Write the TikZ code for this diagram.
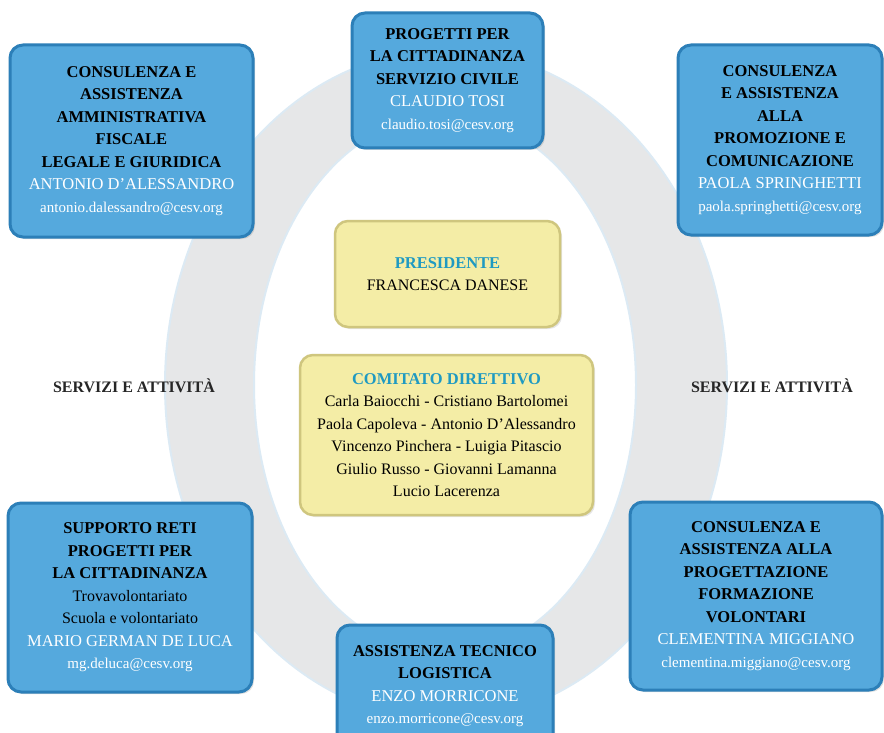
\documentclass[tikz,border=0pt]{standalone}
\usepackage{fontspec}
\setmainfont{Liberation Serif}
\usetikzlibrary{shadows}
\definecolor{boxblue}{HTML}{55A9DD}
\definecolor{boxedge}{HTML}{2C7FB8}
\definecolor{boxyellow}{HTML}{F4EDA6}
\definecolor{yedge}{HTML}{CFC67E}
\definecolor{ringgray}{HTML}{E6E7E8}
\definecolor{ringedge}{HTML}{DCEAF4}
\definecolor{tealtxt}{HTML}{1F9AC2}
\newcommand\titx[1]{{\fontsize{16.5}{22.5}\selectfont\bfseries #1}}
\newcommand\namex[1]{{\fontsize{16.5}{22.5}\selectfont\color{white}#1}}
\newcommand\mailx[1]{{\fontsize{15}{22.5}\selectfont\color{white}#1}}
\begin{document}
\begin{tikzpicture}[x=1pt,y=-1pt,
  bluebox/.style={rounded corners=13pt, fill=boxblue, draw=boxedge, line width=3pt,
    align=center, inner sep=0pt, text=black, font=\fontsize{16}{22.5}\selectfont,
    drop shadow={opacity=0.25, shadow xshift=2pt, shadow yshift=-2pt}},
  yellowbox/.style={rounded corners=13pt, fill=boxyellow, draw=yedge, line width=2.5pt,
    align=center, inner sep=0pt, text=black, font=\fontsize{16}{22.5}\selectfont,
    drop shadow={opacity=0.2, shadow xshift=2pt, shadow yshift=-2pt}},
  sidelabel/.style={font=\fontsize{16}{18}\selectfont\bfseries, text=black!85}]
\useasboundingbox (0,0) rectangle (884,733);
\fill[white] (0,0) rectangle (884,733);
% ring
\fill[ringgray, even odd rule, draw=ringedge, line width=2pt]
  (446,385) ellipse [x radius=281pt, y radius=335pt]
  (445,385) ellipse [x radius=191pt, y radius=270pt];
% boxes
\node[bluebox, minimum width=243pt, minimum height=192pt] (tl) at (131.5,141)
  {\titx{CONSULENZA E}\\\titx{ASSISTENZA}\\\titx{AMMINISTRATIVA}\\\titx{FISCALE}\\\titx{LEGALE E GIURIDICA}\\\namex{ANTONIO D'ALESSANDRO}\\\mailx{antonio.dalessandro@cesv.org}};
\node[bluebox, minimum width=191pt, minimum height=135pt] (tc) at (447.5,80.5)
  {\titx{PROGETTI PER}\\\titx{LA CITTADINANZA}\\\titx{SERVIZIO CIVILE}\\\namex{CLAUDIO TOSI}\\\mailx{claudio.tosi@cesv.org}};
\node[bluebox, minimum width=204pt, minimum height=190pt] (tr) at (780,140)
  {\titx{CONSULENZA}\\\titx{E ASSISTENZA}\\\titx{ALLA}\\\titx{PROMOZIONE E}\\\titx{COMUNICAZIONE}\\\namex{PAOLA SPRINGHETTI}\\\mailx{paola.springhetti@cesv.org}};
\node[yellowbox, minimum width=225pt, minimum height=106pt] (pres) at (447.5,274)
  {{\fontsize{16.5}{22.5}\selectfont\bfseries\color{tealtxt}PRESIDENTE}\\FRANCESCA DANESE};
\node[yellowbox, minimum width=293pt, minimum height=160pt] (com) at (446.5,435)
  {{\fontsize{16.5}{22.5}\selectfont\bfseries\color{tealtxt}COMITATO DIRETTIVO}\\
   Carla Baiocchi - Cristiano Bartolomei\\
   Paola Capoleva - Antonio D'Alessandro\\
   Vincenzo Pinchera - Luigia Pitascio\\
   Giulio Russo - Giovanni Lamanna\\
   Lucio Lacerenza};
\node[bluebox, minimum width=244pt, minimum height=189pt] (bl) at (130,597.5)
  {\titx{SUPPORTO RETI}\\\titx{PROGETTI PER}\\\titx{LA CITTADINANZA}\\Trovavolontariato\\Scuola e volontariato\\\namex{MARIO GERMAN DE LUCA}\\\mailx{mg.deluca@cesv.org}};
\node[bluebox, minimum width=216pt, minimum height=122pt] (bc) at (445,686)
  {\titx{ASSISTENZA TECNICO}\\\titx{LOGISTICA}\\\namex{ENZO MORRICONE}\\\mailx{enzo.morricone@cesv.org}};
\node[bluebox, minimum width=252pt, minimum height=188pt] (br) at (756,596)
  {\titx{CONSULENZA E}\\\titx{ASSISTENZA ALLA}\\\titx{PROGETTAZIONE}\\\titx{FORMAZIONE}\\\titx{VOLONTARI}\\\namex{CLEMENTINA MIGGIANO}\\\mailx{clementina.miggiano@cesv.org}};
% side labels
\node[sidelabel] (svl) at (134,386) {SERVIZI E ATTIVITÀ};
\node[sidelabel] (svr) at (772,386) {SERVIZI E ATTIVITÀ};
\end{tikzpicture}
\end{document}
